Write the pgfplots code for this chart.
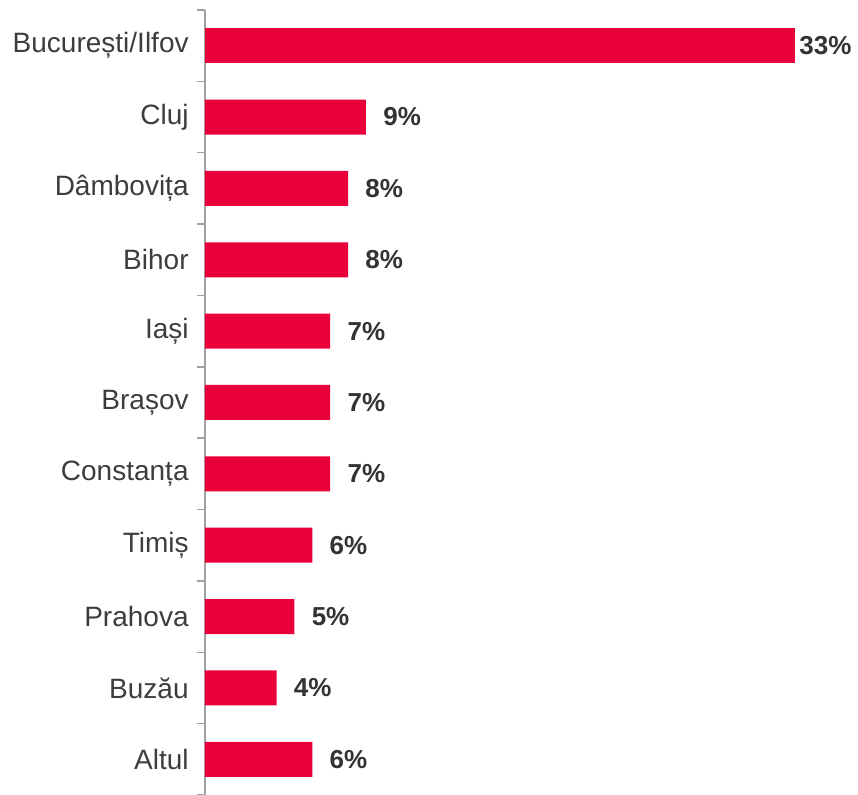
\documentclass[border=0pt]{standalone}
\usepackage{pgfplots}
\pgfplotsset{compat=1.18}
\usepackage{fontspec}
\setmainfont{Liberation Sans}
\usetikzlibrary{calc}
\definecolor{barred}{HTML}{E9003A}
\definecolor{axgray}{HTML}{A0A0A0}
\definecolor{lbl}{HTML}{333333}

\begin{document}
\begin{tikzpicture}
\begin{axis}[
    name=ax,
    scale only axis,
    width=295pt, height=392.5pt,
    xbar, bar width=17.5pt,
    xmin=0, xmax=33,
    ymin=-0.5, ymax=10.5,
    y dir=reverse,
    hide x axis,
    axis y line*=left,
    y axis line style={axgray, line width=0.75pt},
    ytick={0,...,10},
    yticklabels={București/Ilfov,Cluj,Dâmbovița,Bihor,Iași,Brașov,Constanța,Timiș,Prahova,Buzău,Altul},
    yticklabel style={font=\fontsize{14}{16}\selectfont, color=lbl!95, inner sep=0pt, xshift=-8pt},
    major tick length=0pt,
    minor ytick={-0.5,0.5,...,10.5},
    minor tick length=4pt,
    tick align=outside,
    ytick pos=left,
    minor tick style={axgray, line width=0.75pt},
    clip=false,
    point meta=x,
    /pgf/number format/assume math mode=true,
    nodes near coords={\pgfmathprintnumber{\pgfplotspointmeta}\%},
    every node near coord/.append style={font=\bfseries\fontsize{13}{15}\selectfont, color=lbl, anchor=west, inner sep=0pt},
]
\addplot[fill=barred, draw=none, bar shift=0pt,
    every node near coord/.append style={xshift=2pt}]
    coordinates {(33,0)};
\addplot[fill=barred, draw=none, bar shift=0pt,
    every node near coord/.append style={xshift=8.5pt}]
    coordinates {(9,1) (8,2) (8,3) (7,4) (7,5) (7,6) (6,7) (5,8) (4,9) (6,10)};
\end{axis}
\pgfresetboundingbox
\path ($(ax.south west)+(-102.5pt,0)$) rectangle ($(ax.north west)+(326.5pt,5pt)$);
\end{tikzpicture}
\end{document}
